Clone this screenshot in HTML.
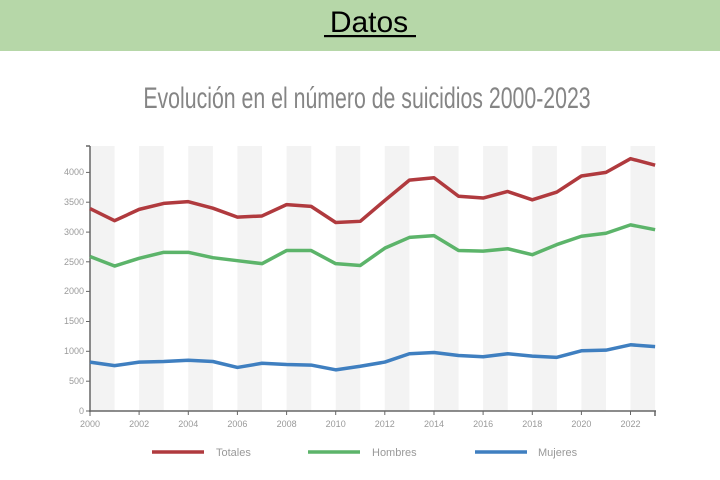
<!DOCTYPE html>
<html><head><meta charset="utf-8"><style>
html,body{margin:0;padding:0;background:#fff;width:720px;height:480px;overflow:hidden}
</style></head><body>
<svg width="720" height="480" xmlns="http://www.w3.org/2000/svg" font-family="Liberation Sans, sans-serif">
<rect x="0" y="0" width="720" height="51" fill="#b6d7a8"/>
<text x="369" y="32" font-size="30" text-anchor="middle" fill="#000">Datos</text>
<rect x="324" y="35" width="92" height="2.2" fill="#000"/>
<text x="367" y="108" font-size="30" text-anchor="middle" fill="#858585" transform="translate(367 0) scale(0.71 1) translate(-367 0)">Evolución en el número de suicidios 2000-2023</text>
<g fill="#f3f3f3">
<rect x="90" y="146" width="24.6" height="265"/><rect x="139.1" y="146" width="24.6" height="265"/>
<rect x="188.3" y="146" width="24.6" height="265"/><rect x="237.4" y="146" width="24.6" height="265"/>
<rect x="286.6" y="146" width="24.6" height="265"/><rect x="335.7" y="146" width="24.6" height="265"/>
<rect x="384.8" y="146" width="24.6" height="265"/><rect x="434" y="146" width="24.6" height="265"/>
<rect x="483.1" y="146" width="24.6" height="265"/><rect x="532.3" y="146" width="24.6" height="265"/>
<rect x="581.4" y="146" width="24.6" height="265"/><rect x="630.5" y="146" width="24.6" height="265"/>
</g>
<g stroke="#666" stroke-width="1.5">
<line x1="90" y1="146" x2="90" y2="412"/><line x1="89" y1="411" x2="656" y2="411"/>
<line x1="86" y1="146" x2="90" y2="146"/>
<line x1="655" y1="411" x2="655" y2="416"/>
</g>
<g stroke="#666" stroke-width="1">
<line x1="86" y1="411" x2="90" y2="411"/><line x1="86" y1="381.2" x2="90" y2="381.2"/>
<line x1="86" y1="351.3" x2="90" y2="351.3"/><line x1="86" y1="321.5" x2="90" y2="321.5"/>
<line x1="86" y1="291.4" x2="90" y2="291.4"/><line x1="86" y1="261.8" x2="90" y2="261.8"/>
<line x1="86" y1="232.1" x2="90" y2="232.1"/><line x1="86" y1="202.2" x2="90" y2="202.2"/>
<line x1="86" y1="172.4" x2="90" y2="172.4"/>
<line x1="90" y1="411" x2="90" y2="416"/><line x1="139.1" y1="411" x2="139.1" y2="415"/>
<line x1="188.3" y1="411" x2="188.3" y2="415"/><line x1="237.4" y1="411" x2="237.4" y2="415"/>
<line x1="286.6" y1="411" x2="286.6" y2="415"/><line x1="335.7" y1="411" x2="335.7" y2="415"/>
<line x1="384.8" y1="411" x2="384.8" y2="415"/><line x1="434" y1="411" x2="434" y2="415"/>
<line x1="483.1" y1="411" x2="483.1" y2="415"/><line x1="532.3" y1="411" x2="532.3" y2="415"/>
<line x1="581.4" y1="411" x2="581.4" y2="415"/><line x1="630.5" y1="411" x2="630.5" y2="415"/>
</g>
<g font-size="9" fill="#9a9a9a" text-anchor="end">
<text x="84" y="414">0</text><text x="84" y="384">500</text><text x="84" y="354">1000</text>
<text x="84" y="324">1500</text><text x="84" y="294">2000</text><text x="84" y="265">2500</text>
<text x="84" y="235">3000</text><text x="84" y="205">3500</text><text x="84" y="175">4000</text>
</g>
<g font-size="9" fill="#9a9a9a" text-anchor="middle">
<text x="90" y="427">2000</text><text x="139.1" y="427">2002</text><text x="188.3" y="427">2004</text>
<text x="237.4" y="427">2006</text><text x="286.6" y="427">2008</text><text x="335.7" y="427">2010</text>
<text x="384.8" y="427">2012</text><text x="434" y="427">2014</text><text x="483.1" y="427">2016</text>
<text x="532.3" y="427">2018</text><text x="581.4" y="427">2020</text><text x="630.5" y="427">2022</text>
</g>
<g transform="translate(90 411) scale(24.57 -0.05965)" fill="none" stroke-width="3.5" stroke-linejoin="round">
<polyline vector-effect="non-scaling-stroke" stroke="#b03a3e" points="0,3393 1,3190 2,3380 3,3480 4,3510 5,3400 6,3250 7,3270 8,3460 9,3430 10,3160 11,3180 12,3530 13,3870 14,3910 15,3600 16,3570 17,3680 18,3540 19,3670 20,3940 21,4000 22,4230 23,4120"/>
<polyline vector-effect="non-scaling-stroke" stroke="#5cb46a" points="0,2590 1,2430 2,2560 3,2660 4,2660 5,2570 6,2520 7,2470 8,2690 9,2690 10,2470 11,2440 12,2730 13,2910 14,2940 15,2690 16,2680 17,2720 18,2620 19,2790 20,2930 21,2980 22,3120 23,3040"/>
<polyline vector-effect="non-scaling-stroke" stroke="#3f7fc0" points="0,820 1,760 2,820 3,830 4,850 5,830 6,730 7,800 8,780 9,770 10,690 11,750 12,820 13,960 14,980 15,930 16,910 17,960 18,920 19,900 20,1010 21,1020 22,1110 23,1080"/>
</g>
<g stroke-width="3.5">
<line x1="152" y1="452" x2="204" y2="452" stroke="#b03a3e"/>
<line x1="308" y1="452" x2="360" y2="452" stroke="#5cb46a"/>
<line x1="475" y1="452" x2="527" y2="452" stroke="#3f7fc0"/>
</g>
<g font-size="11" fill="#999">
<text x="216" y="456">Totales</text><text x="372" y="456">Hombres</text><text x="538" y="456">Mujeres</text>
</g>
</svg>
</body></html>
